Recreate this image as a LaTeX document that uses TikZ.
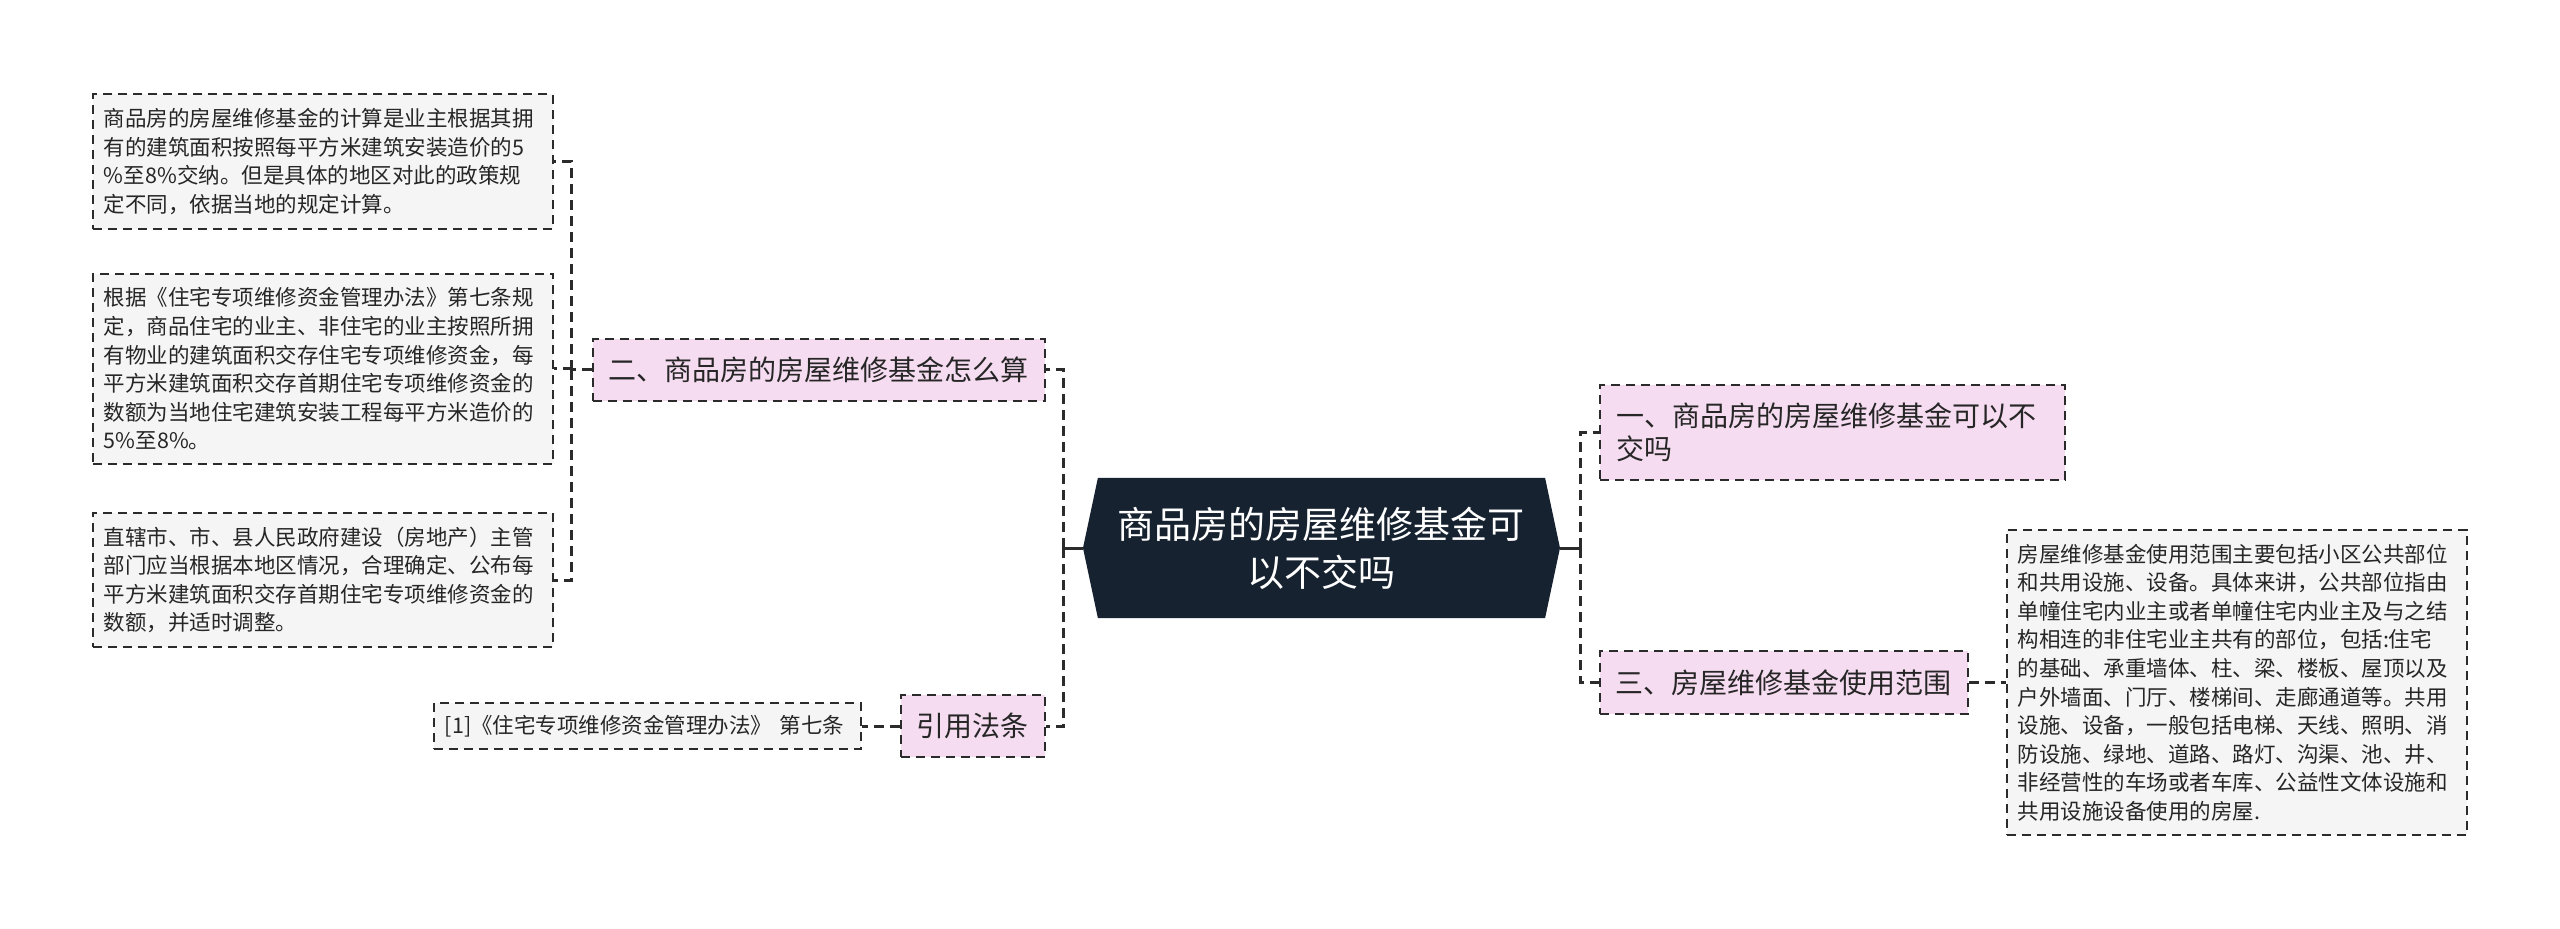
\documentclass[tikz,border=0pt]{standalone}
\usepackage{fontspec}
\newfontfamily\cjk{Noto Sans CJK SC}
\usepackage{tikz}
\usetikzlibrary{shapes.symbols}
\definecolor{navy}{HTML}{16222F}
\definecolor{edge}{HTML}{2B2B2B}
\definecolor{ink}{HTML}{262626}
\definecolor{pinkfill}{HTML}{F5DCF0}
\definecolor{leaffill}{HTML}{F5F5F5}
\tikzstyle{topic} = [signal, signal to=east and west, signal pointer angle=156, minimum width=477pt, minimum height=140pt, fill=navy, text=white, align=center, font={\cjk\fontsize{37}{48}\selectfont}]
\tikzstyle{branch} = [rectangle, draw=edge, line width=2pt, dash pattern=on 9pt off 6pt, fill=pinkfill, inner xsep=16pt, inner ysep=18pt, text=ink, font={\cjk\fontsize{28}{33}\selectfont}]
\tikzstyle{leaf} = [rectangle, draw=edge, line width=2pt, dash pattern=on 9pt off 6pt, fill=leaffill, text width=438pt, inner xsep=11pt, inner ysep=14pt, align=left, text=ink, font={\cjk\fontsize{21.5}{28.6}\selectfont}]
\tikzstyle{link} = [draw=edge, line width=3pt, dash pattern=on 10pt off 6pt]
\tikzstyle{stub} = [draw=edge, line width=3pt]

\begin{document}
\begin{tikzpicture}[node distance=300pt, x=1pt, y=1pt]
\useasboundingbox (-1321.5,-381) rectangle (1238.5,548);
\node (main) [topic] {商品房的房屋维修基金可\\以不交吗};
\node (calc) [branch, left of=main, xshift=-202.5pt, yshift=178pt] {二、商品房的房屋维修基金怎么算};
\node (law) [branch, left of=main, xshift=-48.5pt, yshift=-178pt] {引用法条};
\node (leafA) [leaf, left of=calc, xshift=-196pt, yshift=208.5pt] {商品房的房屋维修基金的计算是业主根据其拥\\有的建筑面积按照每平方米建筑安装造价的5\\\%至8\%交纳。但是具体的地区对此的政策规\\定不同，依据当地的规定计算。};
\node (leafB) [leaf, left of=calc, xshift=-196pt, yshift=1pt] {根据《住宅专项维修资金管理办法》第七条规\\定，商品住宅的业主、非住宅的业主按照所拥\\有物业的建筑面积交存住宅专项维修资金，每\\平方米建筑面积交存首期住宅专项维修资金的\\数额为当地住宅建筑安装工程每平方米造价的\\5\%至8\%。};
\node (leafC) [leaf, left of=calc, xshift=-196pt, yshift=-210pt] {直辖市、市、县人民政府建设（房地产）主管\\部门应当根据本地区情况，合理确定、公布每\\平方米建筑面积交存首期住宅专项维修资金的\\数额，并适时调整。};
\node (cite) [leaf, text width=405pt, inner ysep=12pt, left of=law, xshift=-25.5pt] {[1]《住宅专项维修资金管理办法》 第七条};
\node (q1) [branch, text width=433pt, align=left, right of=main, xshift=211pt, yshift=115.5pt] {一、商品房的房屋维修基金可以不\\交吗};
\node (scope) [branch, right of=main, xshift=162pt, yshift=-134.5pt] {三、房屋维修基金使用范围};
\node (usage) [leaf, right of=scope, xshift=153pt] {房屋维修基金使用范围主要包括小区公共部位\\和共用设施、设备。具体来讲，公共部位指由\\单幢住宅内业主或者单幢住宅内业主及与之结\\构相连的非住宅业主共有的部位，包括:住宅\\的基础、承重墙体、柱、梁、楼板、屋顶以及\\户外墙面、门厅、楼梯间、走廊通道等。共用\\设施、设备，一般包括电梯、天线、照明、消\\防设施、绿地、道路、路灯、沟渠、池、井、\\非经营性的车场或者车库、公益性文体设施和\\共用设施设备使用的房屋.};

\coordinate (lhub) at ([xshift=-19pt]main.west);
\coordinate (rhub) at ([xshift=20pt]main.east);
\coordinate (chub) at ([xshift=-20pt]calc.west);

\draw [stub] (main.west) -- (lhub);
\draw [stub] (main.east) -- (rhub);
\draw [link] (lhub) |- (calc.east);
\draw [link] (lhub) |- (law.east);
\draw [link] (calc.west) -- (chub);
\draw [link] (chub) |- (leafA.east);
\draw [link] (chub) |- (leafB.east);
\draw [link] (chub) |- (leafC.east);
\draw [link] (law.west) -- (cite.east);
\draw [link] (rhub) |- (q1.west);
\draw [link] (rhub) |- (scope.west);
\draw [link] (scope.east) -- (usage.west);
\end{tikzpicture}
\end{document}
